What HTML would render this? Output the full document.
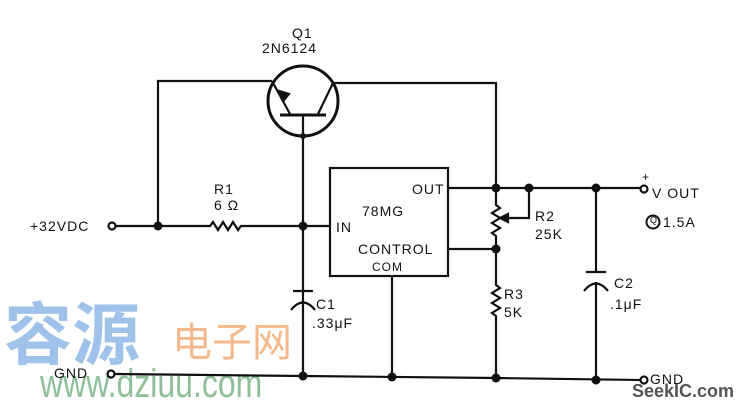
<!DOCTYPE html>
<html><head><style>
body{margin:0;background:#fff;width:749px;height:407px;overflow:hidden;position:relative;font-family:"Liberation Sans","Noto Sans CJK SC",sans-serif}
.t{position:absolute;font-size:14px;color:#111;letter-spacing:1px;white-space:nowrap}
</style></head><body>
<div class="t" style="left:4px;top:280px;font-size:68px;color:#9ec2ea;font-weight:bold;letter-spacing:0">容源</div>
<div class="t" style="left:172px;top:310px;font-size:40px;color:#f4b98a;letter-spacing:0">电子网</div>
<div class="t" style="left:40px;top:362px;font-size:40px;color:#8fbf98;letter-spacing:0;transform:scaleX(0.8);transform-origin:0 0">www.dziuu.com</div>
<div class="t" style="left:632px;top:381px;font-size:18px;color:#555;font-weight:bold;letter-spacing:0">SeekIC.com</div>
<svg width="749" height="407" style="position:absolute;left:0;top:0" fill="none" stroke="#111" stroke-width="2.2">
<circle cx="303" cy="101" r="35" stroke-width="3"/>
<path d="M158 226 V81 H272"/>
<path d="M272 81 L290 114 M333 83 L318 114"/>
<path d="M280 115 H326" stroke-width="3"/>
<polygon points="284,100 279,91 289,94" fill="#111"/>
<path d="M333 83 H496 V188"/>
<path d="M303 115 V375"/>
<circle cx="112" cy="226" r="3.5"/>
<path d="M116 226 H210 l3 -4 l5 8 l5 -8 l5 8 l5 -8 l5 8 l3 -4 H330"/>
<rect x="330" y="168" width="118" height="108"/>
<path d="M448 188 H640"/>
<circle cx="644" cy="189" r="3.5"/>
<path d="M448 249 H496"/>
<path d="M496 188 V205 l4 3 l-8 5 l8 5 l-8 5 l8 5 l-8 5 l4 3 V249"/>
<path d="M508 218 H529 V188"/>
<polygon points="500,218 508,214 508,222" fill="#111"/>
<path d="M496 249 V285 l4 3 l-8 5 l8 5 l-8 5 l8 5 l-8 5 l4 3 V378"/>
<path d="M596 188 V272 M586 272 H606 M584 291 Q596 276 608 291 M596 282 V380"/>
<path d="M293 291 H313 M291 310 Q303 295 315 310" />
<path d="M392 276 V377"/>
<circle cx="111" cy="374" r="3.5"/>
<path d="M115 374 L303 376 L496 378 L640 380"/>
<circle cx="644" cy="380" r="3.5"/>
<circle cx="653" cy="222" r="6.5" stroke-width="2"/>
<g fill="#111" stroke="none">
<circle cx="158" cy="226" r="4.5"/><circle cx="303" cy="226" r="4.5"/><circle cx="303" cy="136" r="3"/>
<circle cx="496" cy="188" r="4.5"/><circle cx="529" cy="188" r="4.5"/><circle cx="596" cy="188" r="4.5"/>
<circle cx="496" cy="249" r="4.5"/><circle cx="303" cy="376" r="4.5"/><circle cx="392" cy="377" r="4.5"/>
<circle cx="496" cy="378" r="4.5"/><circle cx="596" cy="380" r="4.5"/>
</g>
</svg>
<div class="t" style="left:292px;top:25px">Q1</div>
<div class="t" style="left:262px;top:40px">2N6124</div>
<div class="t" style="left:214px;top:181px">R1</div>
<div class="t" style="left:214px;top:197px">6 Ω</div>
<div class="t" style="left:30px;top:218px">+32VDC</div>
<div class="t" style="left:336px;top:219px">IN</div>
<div class="t" style="left:412px;top:181px">OUT</div>
<div class="t" style="left:362px;top:203px">78MG</div>
<div class="t" style="left:358px;top:241px">CONTROL</div>
<div class="t" style="left:372px;top:260px;font-size:12px">COM</div>
<div class="t" style="left:535px;top:208px">R2</div>
<div class="t" style="left:535px;top:226px">25K</div>
<div class="t" style="left:642px;top:170px;font-size:12px">+</div>
<div class="t" style="left:652px;top:185px">V OUT</div>
<div class="t" style="left:650px;top:215px;font-size:9px">Q</div>
<div class="t" style="left:663px;top:214px">1.5A</div>
<div class="t" style="left:504px;top:286px">R3</div>
<div class="t" style="left:504px;top:304px">5K</div>
<div class="t" style="left:614px;top:275px">C2</div>
<div class="t" style="left:610px;top:296px">.1μF</div>
<div class="t" style="left:316px;top:296px">C1</div>
<div class="t" style="left:312px;top:315px">.33μF</div>
<div class="t" style="left:54px;top:365px">GND</div>
<div class="t" style="left:650px;top:371px">GND</div>
</body></html>
